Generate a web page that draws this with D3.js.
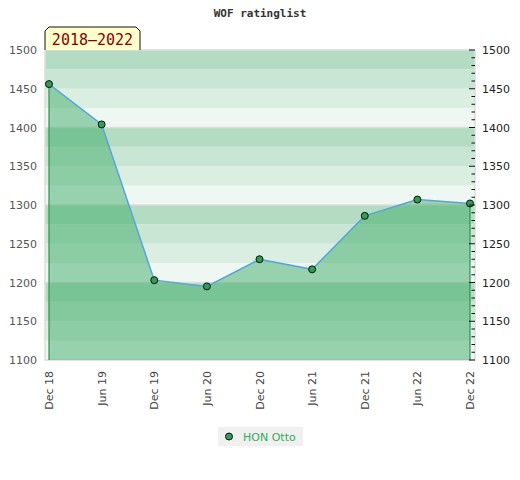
<!DOCTYPE html>
<html>
<head>
<meta charset="utf-8">
<script src="https://cdn.jsdelivr.net/npm/d3@7"></script>
<style>
  body { margin: 0; background: #fff; }
  svg text { font-family: "DejaVu Sans", sans-serif; }
</style>
</head>
<body>
<div id="chart"></div>
<script>
// ratinglist data
var periods = ['Dec 18', 'Jun 19', 'Dec 19', 'Jun 20', 'Dec 20', 'Jun 21', 'Dec 21', 'Jun 22', 'Dec 22'];
var ratings = [1456, 1404, 1203, 1195, 1230, 1217, 1286, 1307, 1302];
var yTicks = [1100, 1150, 1200, 1250, 1300, 1350, 1400, 1450, 1500];
var bandColors = ['#eff7f2', '#dbeee2', '#c8e6d3', '#b3dcc2'];
var playerName = 'HON Otto';
var rangeLabel = '2018\u20132022';
var chartTitle = 'WOF ratinglist';

var width = 520, height = 480;
// plot box (window.top is read-only, so prefixed names)
var plotL = 45, plotR = 475, plotT = 50, plotB = 360;

var svg = d3.select('#chart').append('svg').attr('width', width).attr('height', height);

var x = d3.scalePoint().domain(periods).range([plotL + 4, plotR - 5]);
var y = d3.scaleLinear().domain([1100, 1500]).range([plotB, plotT]);

// background bands, 25 points each
var bands = d3.range(1100, 1500, 25);
svg.append('g').selectAll('rect.band').data(bands).enter().append('rect')
    .attr('class', 'band')
    .attr('x', plotL).attr('width', plotR - plotL)
    .attr('y', function(v) { return y(v + 25); })
    .attr('height', function(v) { return y(v) - y(v + 25); })
    .attr('fill', function(v) { return bandColors[((v - 1100) / 25) % 4]; });

// grid lines every 100
svg.append('g').selectAll('line.grid').data([1200, 1300, 1400, 1500]).enter().append('line')
    .attr('x1', plotL).attr('x2', plotR)
    .attr('y1', function(v) { return y(v); }).attr('y2', function(v) { return y(v); })
    .attr('stroke', '#dddddd').attr('stroke-width', 1.5);

// frame left/bottom/right
svg.append('path')
    .attr('d', 'M' + plotL + ',' + plotT + 'V' + plotB + 'H' + plotR + 'V' + plotT)
    .attr('fill', 'none').attr('stroke', '#dddddd').attr('stroke-width', 1.5);

// area under the series
var area = d3.area()
    .x(function(d, i) { return x(periods[i]); })
    .y0(plotB)
    .y1(function(d) { return y(d); });
svg.append('path').datum(ratings)
    .attr('d', area)
    .attr('fill', 'rgba(64,171,103,0.5)');

// vertical drop lines at both ends
var ends = [0, ratings.length - 1];
svg.append('g').selectAll('line.drop').data(ends).enter().append('line')
    .attr('x1', function(i) { return x(periods[i]); })
    .attr('x2', function(i) { return x(periods[i]); })
    .attr('y1', function(i) { return y(ratings[i]); })
    .attr('y2', plotB)
    .attr('stroke', '#2e9150').attr('stroke-width', 1.2);

var line = d3.line()
    .x(function(d, i) { return x(periods[i]); })
    .y(function(d) { return y(d); });
svg.append('path').datum(ratings)
    .attr('d', line)
    .attr('fill', 'none').attr('stroke', '#5aa4dc').attr('stroke-width', 1.5);

svg.append('g').selectAll('circle.pt').data(ratings).enter().append('circle')
    .attr('cx', function(d, i) { return x(periods[i]); })
    .attr('cy', function(d) { return y(d); })
    .attr('r', 3.5)
    .attr('fill', '#2e9e55').attr('stroke', '#111').attr('stroke-width', 1);

// left axis labels
var yLeft = svg.append('g').attr('transform', 'translate(' + plotL + ',0)')
    .call(d3.axisLeft(y).tickValues(yTicks).tickSize(0).tickPadding(8).tickFormat(d3.format('d')));
yLeft.select('.domain').remove();
yLeft.selectAll('text').attr('fill', '#555').style('font-size', '11px');

// right axis: inside ticks every 10, labels outside
var minor = d3.range(1100, 1501, 10);
svg.append('g').selectAll('line.tick').data(minor).enter().append('line')
    .attr('x1', function(v) { return v % 50 === 0 ? plotR - 6 : plotR - 3.5; })
    .attr('x2', plotR)
    .attr('y1', function(v) { return y(v); }).attr('y2', function(v) { return y(v); })
    .attr('stroke', '#111').attr('stroke-width', 1);
var yRight = svg.append('g').attr('transform', 'translate(' + plotR + ',0)')
    .call(d3.axisRight(y).tickValues(yTicks).tickSize(0).tickPadding(7).tickFormat(d3.format('d')));
yRight.select('.domain').remove();
yRight.selectAll('text').attr('fill', '#222').style('font-size', '11px');

// x axis labels, rotated
svg.append('g').selectAll('text.xlab').data(periods).enter().append('text')
    .attr('class', 'xlab')
    .attr('transform', function(p) { return 'translate(' + (x(p) + 4) + ',' + (plotB + 11) + ') rotate(-90)'; })
    .style('text-anchor', 'end')
    .style('font-size', '11px')
    .attr('fill', '#444')
    .text(function(p) { return p; });

// title
svg.append('text')
    .attr('x', 260).attr('y', 17)
    .style('text-anchor', 'middle')
    .style('font-family', '"DejaVu Sans Mono", monospace')
    .style('font-weight', 'bold')
    .style('font-size', '11px')
    .attr('fill', '#333')
    .text(chartTitle);

// period label box with cut corners
svg.append('path')
    .attr('d', 'M45,50 V31 L49,27 H136 L140,31 V50')
    .attr('fill', '#ffffcc').attr('stroke', '#111').attr('stroke-width', 1);
svg.append('text')
    .attr('x', 92.5).attr('y', 45)
    .style('text-anchor', 'middle')
    .style('font-family', '"DejaVu Sans Mono", monospace')
    .style('font-size', '15px')
    .attr('fill', '#8b0000')
    .text(rangeLabel);

// legend
var lg = svg.append('g').attr('transform', 'translate(218,427)');
lg.append('rect').attr('width', 85).attr('height', 19).attr('fill', '#f0f0f0');
lg.append('circle').attr('cx', 11).attr('cy', 9.5).attr('r', 3.5)
    .attr('fill', '#2e9e55').attr('stroke', '#111').attr('stroke-width', 1);
lg.append('text').attr('x', 25).attr('y', 13.5)
    .style('font-size', '11px').attr('fill', '#35ab5e')
    .text(playerName);
</script>
</body>
</html>
